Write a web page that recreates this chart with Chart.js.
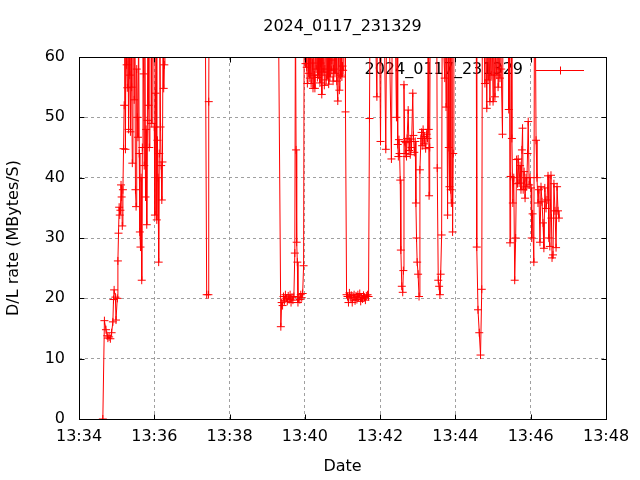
<!DOCTYPE html>
<html>
<head>
<meta charset="utf-8">
<title>2024_0117_231329</title>
<script src="https://cdn.jsdelivr.net/npm/chart.js@4.4.1/dist/chart.umd.min.js"></script>
<style>
  html, body { margin: 0; padding: 0; background: #fff; }
</style>
</head>
<body>
<canvas id="rateChart" width="640" height="480"></canvas>
<script>
const runName = "2024_0117_231329";

// x tick labels, one every 2 minutes
const timeLabels = ["13:34", "13:36", "13:38", "13:40", "13:42", "13:44", "13:46", "13:48"];

// seconds after 13:34:00
const elapsed = [
    38, 40.5, 43, 45, 46, 48, 50, 52,
    54, 55, 56, 58, 59, 61, 62, 63, 64, 65,
    66, 67, 68, 69, 70, 71, 72, 73, 74, 75,
    76, 77, 78, 79, 80, 81, 82, 83, 84, 85,
    86, 87, 88, 89, 90, 91, 92, 93, 94, 95,
    96, 97, 98, 99, 100, 101, 102, 103, 104, 105,
    106, 107, 108, 109, 110, 111, 112, 113, 114, 115,
    116, 117, 118, 119, 120, 121, 122, 123, 124, 125,
    126, 127, 128, 129, 130, 131, 132, 133, 134, 135,
    136, 137, 140, 199, 201, 203.5, 206.3, 206.8,
    207.5, 317, 321.7, 323, 324.5, 326, 327.5, 329,
    330.5, 332, 333.5, 335, 336.5, 338, 339.5, 341, 342.5, 344,
    345, 346, 347, 348, 349, 350.5, 352, 353.5, 355, 356.5,
    358, 359, 360, 361, 362, 363, 364, 365, 366, 367,
    368, 369, 370, 371, 372, 373, 374, 375, 376, 377,
    378, 379, 380, 381, 382, 383, 384, 385, 386, 387,
    388, 389, 390, 391, 392, 393, 394, 395, 396, 397,
    398, 399, 400, 401, 402, 403, 404, 405, 406, 407,
    408, 409, 410, 411, 412.5, 414, 415, 416, 417, 418,
    419, 420, 421, 422, 424, 424.8, 426.5, 428, 429.5,
    431, 432.5, 434, 435.5, 437, 438.5, 440, 441.5, 443, 444.5,
    446, 447.5, 449, 450.5, 452, 453.5, 455, 456.5, 458, 460,
    461.5, 463, 464, 468, 472, 474.8, 476, 479, 480.6, 482,
    486, 489, 490.5, 494, 498, 499.5, 503, 506, 507, 508,
    509, 510, 511, 512, 513, 514.5, 516, 517, 518, 519,
    520, 521, 522, 523, 524.7, 526, 527, 528, 529, 530,
    532, 533, 534.5, 536, 537, 538, 539, 540.5, 542, 543.4,
    545, 546, 547, 548.5, 550, 551, 552.5, 554, 555.5, 556.5,
    557.5, 558, 559, 560, 570, 571, 572.6, 574, 575.3, 576.5,
    578, 579, 580, 581, 583, 584, 585, 586, 587.5, 588.5,
    589.5, 590.5, 591.5, 592.5, 593.5, 594.5, 595.5, 596.5, 597.5, 598.5,
    633, 634, 636, 638, 640, 642, 643, 645, 647, 648,
    650, 651, 652, 653, 655, 656, 657, 658, 660, 661,
    663, 664, 666, 667, 668, 669, 671, 672, 673, 675,
    676, 680, 684, 685, 686, 687, 688, 689, 690, 691.5,
    693, 694.5, 696, 697.5, 699, 700, 701.5, 703, 704.5, 706,
    707, 708, 709.5, 711, 712.5, 713.6, 715, 716, 717.5, 719,
    720.5, 721.6, 723, 725, 726, 727, 728.5, 730, 731.6, 733,
    734.8, 736.4, 738, 739.6, 741, 742.5, 744.4, 746, 747.6, 749,
    750.5, 752.3, 753, 754, 755.5, 757, 758.7, 760.4, 762, 763.5,
    765
];

// D/L rate in MBytes/s (values over 60 run off the top of the plot)
const rates = [
    0, 16.3, 14.8, 13.8, 13.4, 13.6, 13.3, 14.3,
    16.1, 19.8, 21.4, 20.2, 16.4, 20, 26.2, 30.8, 35.1, 33.8,
    34.6, 38.8, 36.8, 32, 38, 44.8, 52, 68, 44.7, 70,
    58.7, 54.9, 66, 48, 72, 57, 47.6, 65, 55, 42.4,
    62, 68, 52.9, 64, 38, 35.2, 58, 50, 46.7, 66,
    44, 31, 28.5, 40, 23, 45, 64, 57.2, 42, 62,
    36.8, 48, 32.2, 49.5, 70, 52, 45, 74, 62, 70,
    49, 75, 60.5, 68, 48.4, 33.8, 54, 66, 33, 46.2,
    40, 26, 44, 62, 48.4, 42, 36.3, 42.6, 65, 54.8,
    58.7, 70, 80, 80, 75, 20.6, 20.6, 52.6,
    75, 80, 15.3, 19.3, 18.8, 20.3, 19.6, 20.6,
    20, 19.5, 20.4, 19.8, 20.6, 19.3, 20.2, 19.7, 20.3, 27.5,
    70, 44.6, 29.3, 26, 19.3, 20.2, 19.8, 20.6, 20.1, 20.8,
    25.4, 70, 62, 58.9, 66, 58.3, 55.6, 64, 57.3, 68,
    56.5, 61, 55.6, 63, 59, 54.8, 65, 57, 54.8, 62,
    58, 70, 56.6, 61, 57, 64, 55.7, 59, 66, 53.8,
    60.5, 57.5, 63, 55.3, 58, 65, 56.2, 61, 57, 68,
    55.5, 60, 56.7, 63, 57.8, 59.5, 66, 56, 58, 64,
    57.3, 61, 70, 56, 52.7, 62, 54.5, 60.5, 57, 66,
    56.7, 58.5, 57.8, 64, 70, 50.9, 20.6, 20.3, 19.3,
    20.9, 20.1, 20.5, 19.3, 20.2, 20.6, 19.6, 20.4, 19.8, 20.6,
    20.2, 20.8, 19.5, 20.1, 19.9, 20.5, 20.2, 19.7, 20.4, 20.6,
    20.3, 49.8, 70, 75, 68, 53.4, 70, 66, 46, 70,
    72, 44.7, 70, 68, 43.1, 70, 75, 50, 62, 45.5,
    43.5, 46.3, 44, 39.6, 28, 22, 21, 24.6, 55.4, 46,
    44, 45.8, 43.5, 46.5, 51.2, 44.5, 46, 43.8, 46.4, 45,
    54, 47, 44.2, 46, 35.8, 30, 26, 24, 20.3, 41.3,
    46.5, 47.5, 45.3, 48, 45.6, 46.8, 44.8, 47.2, 46.5, 60.5,
    48, 37, 45, 70, 75, 41.6, 23, 22, 20.6, 24,
    30.5, 70, 72, 62, 56.5, 70, 51.7, 66, 33.8, 65,
    45, 38.5, 70, 38, 35.8, 62, 31, 44, 70, 75,
    75, 28.5, 18.1, 14.3, 10.6, 21.5, 70, 66, 55.6, 70,
    51.5, 64, 56.2, 68, 52.6, 62, 57, 70, 52.6, 64,
    53.4, 61, 57, 66, 55, 62, 56.5, 70, 58, 47.2,
    70, 75, 70, 51.3, 70, 29.2, 40.2, 70, 46.5, 35.8,
    40, 23, 30, 43, 39, 43.1, 39.1, 42, 38, 44.6,
    48.2, 38, 41, 36.6, 40, 38.5, 44, 49.3, 38.8, 40,
    38.3, 30, 34, 26, 70, 75, 46.2, 40, 35.8, 38,
    29.3, 38.5, 36, 32.5, 28.3, 38.3, 34.9, 36.3, 40.3, 30,
    28.6, 40.4, 33.3, 26.7, 27.2, 39, 34.5, 28.4, 38.5, 34.5,
    33.3
];

Chart.defaults.font.family = '"DejaVu Sans", sans-serif';
Chart.defaults.font.size = 16;
Chart.defaults.color = "#000";

// gnuplot look: title and key text before the data, black frame and inward tics after
const gnuplotFrame = {
    id: "gnuplotFrame",
    beforeDatasetsDraw(chart) {
        const { ctx, chartArea: a } = chart;
        ctx.save();
        ctx.font = '16px "DejaVu Sans", sans-serif';
        ctx.fillStyle = "#000";
        ctx.textBaseline = "middle";
        ctx.textAlign = "center";
        ctx.fillText(runName, (a.left + a.right) / 2, 27);
        ctx.textAlign = "right";
        ctx.fillText(runName, a.right - 83, a.top + 13);
        ctx.restore();
    },
    afterDraw(chart) {
        const { ctx, chartArea: a, scales } = chart;
        const l = Math.round(a.left) + 0.5;
        const r = Math.round(a.right) + 0.5;
        const t = Math.round(a.top) + 0.5;
        const b = Math.round(a.bottom) + 0.5;
        const tic = 5;

        ctx.save();
        ctx.strokeStyle = "#000";
        ctx.lineWidth = 1;
        ctx.beginPath();
        scales.x.ticks.forEach(tk => {
            const px = Math.round(scales.x.getPixelForValue(tk.value)) + 0.5;
            ctx.moveTo(px, b); ctx.lineTo(px, b - tic);
            ctx.moveTo(px, t); ctx.lineTo(px, t + tic);
        });
        scales.y.ticks.forEach(tk => {
            const py = Math.round(scales.y.getPixelForValue(tk.value)) + 0.5;
            ctx.moveTo(l, py); ctx.lineTo(l + tic, py);
            ctx.moveTo(r, py); ctx.lineTo(r - tic, py);
        });
        ctx.stroke();
        ctx.strokeRect(l, t, r - l, b - t);

        // key sample
        const ky = Math.round(a.top + 13) + 0.5;
        const kx = Math.round(a.right - 46) + 0.5;
        ctx.strokeStyle = "#ff0000";
        ctx.beginPath();
        ctx.moveTo(a.right - 70, ky); ctx.lineTo(a.right - 22, ky);
        ctx.moveTo(kx, ky - 4); ctx.lineTo(kx, ky + 4);
        ctx.stroke();
        ctx.restore();
    }
};

const gridOpts = { color: "#a0a0a0", drawTicks: false };
const borderOpts = { display: false, dash: [3, 3] };

new Chart(document.getElementById("rateChart"), {
    type: "line",
    data: {
        datasets: [{
            label: runName,
            data: elapsed.map((t, i) => ({ x: t, y: rates[i] })),
            borderColor: "#ff0000",
            borderWidth: 1,
            pointStyle: "cross",
            pointRadius: 4,
            pointBorderColor: "#ff0000",
            pointBorderWidth: 1,
            tension: 0,
            fill: false
        }]
    },
    options: {
        responsive: false,
        animation: false,
        devicePixelRatio: 1,
        layout: { padding: { top: 57, right: 34 } },
        plugins: {
            legend: { display: false },
            tooltip: { enabled: false },
            title: { display: false }
        },
        scales: {
            x: {
                type: "linear",
                min: 0,
                max: 840,
                afterFit: s => { s.height = 61; },
                ticks: {
                    stepSize: 120,
                    padding: 8,
                    maxRotation: 0,
                    autoSkip: false,
                    callback: v => timeLabels[Math.round(v / 120)]
                },
                grid: gridOpts,
                border: borderOpts,
                title: { display: true, text: "Date", font: { size: 16 } }
            },
            y: {
                min: 0,
                max: 60,
                afterFit: s => { s.width = 79; },
                ticks: { stepSize: 10, padding: 14 },
                grid: gridOpts,
                border: borderOpts,
                title: { display: true, text: "D/L rate (MBytes/S)", font: { size: 16 } }
            }
        }
    },
    plugins: [gnuplotFrame]
});
</script>
</body>
</html>
